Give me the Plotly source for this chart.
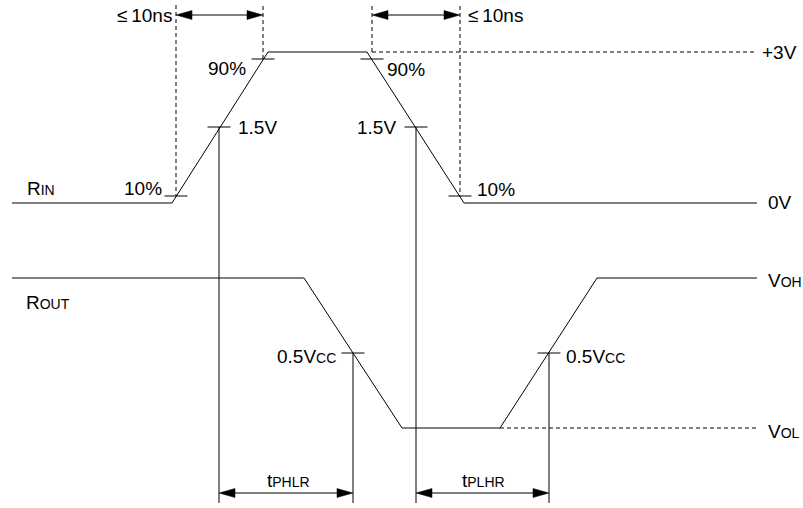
import plotly.graph_objects as go

# Canvas coordinates (x to the right, y downward), one unit per pixel
W, H = 803, 508

# Waveforms: input R_IN and output R_OUT
rin_x = [12, 172, 268, 367, 464, 757]
rin_y = [203, 203, 52, 52, 203, 203]
rout_x = [12, 304, 402, 500, 597, 757]
rout_y = [278, 278, 428, 428, 278, 278]

# Threshold crossing marks: (x, y)
rin_marks = [(176, 196), (263, 59), (219, 127), (416, 127), (372, 59), (460, 196)]
rout_marks = [(353, 353), (549, 353)]

FONT = "Liberation Sans, Arial, Helvetica, sans-serif"
INK = "#000000"
SIZE = 19
SUB = 14

fig = go.Figure()

fig.add_trace(go.Scatter(x=rin_x, y=rin_y, mode="lines",
                         line=dict(color=INK, width=1), hoverinfo="skip"))
fig.add_trace(go.Scatter(x=rout_x, y=rout_y, mode="lines",
                         line=dict(color=INK, width=1), hoverinfo="skip"))

shapes = []


def line(x0, y0, x1, y1, dash=None, width=1):
    shapes.append(dict(type="line", x0=x0, y0=y0, x1=x1, y1=y1, xref="x", yref="y",
                       line=dict(color=INK, width=width, dash=dash or "solid")))


def head(xt, y, direction, length=16, half=4.5):
    # filled triangular arrowhead with its tip at (xt, y)
    xb = xt - direction * length
    shapes.append(dict(type="path", xref="x", yref="y",
                       path=f"M {xt} {y} L {xb} {y - half} L {xb} {y + half} Z",
                       fillcolor=INK, line=dict(color=INK, width=0.5)))


def span_arrow(xa, xb, y):
    line(xa + 4, y, xb - 4, y)
    head(xa, y, -1)
    head(xb, y, 1)


def small(s):
    return f"<span style='font-size:{SUB}px'>{s}</span>"


DASH = "4px,3px"

# Crossing ticks
for (mx, my) in rin_marks + rout_marks:
    line(mx - 11.5, my, mx + 11.5, my)

# Rise / fall time guides (dashed)
line(176, 5, 176, 196, DASH)
line(263, 6, 263, 59, DASH)
line(372, 6, 372, 52, DASH)
line(460, 6, 460, 196, DASH)
line(372, 52, 757, 52, DASH)
line(500, 428, 757, 428, DASH)

# Propagation delay guides (solid)
line(219, 127, 219, 503)
line(416, 127, 416, 503)
line(353, 353, 353, 503)
line(549, 353, 549, 503)

# Dimension arrows
span_arrow(176, 263, 15)
span_arrow(372, 460, 15)
span_arrow(219, 353, 493)
span_arrow(416, 549, 493)

fig.update_layout(shapes=shapes)

LE = "\u2264\u2009"  # less-or-equal sign followed by a thin space

texts = [
    (LE + "10ns", 174, 15, "right"),
    (LE + "10ns", 466, 15, "left"),
    ("90%", 248, 68, "right"),
    ("90%", 385, 69, "left"),
    ("+3V", 760, 52, "left"),
    ("1.5V", 236, 127, "left"),
    ("1.5V", 398, 127, "right"),
    ("10%", 164, 188, "right"),
    ("10%", 475, 189, "left"),
    ("R" + small("IN"), 25, 188, "left"),
    ("0V", 766, 202, "left"),
    ("R" + small("OUT"), 24, 302, "left"),
    ("V" + small("OH"), 766, 280, "left"),
    ("0.5V" + small("CC"), 338, 356, "right"),
    ("0.5V" + small("CC"), 564, 356, "left"),
    ("V" + small("OL"), 766, 431, "left"),
    ("t" + small("PHLR"), 288, 480, "center"),
    ("t" + small("PLHR"), 483, 480, "center"),
]
for (t, x, y, anchor) in texts:
    fig.add_annotation(text=t, x=x, y=y, xref="x", yref="y", showarrow=False,
                       xanchor=anchor, yanchor="middle",
                       font=dict(family=FONT, size=SIZE, color=INK))

fig.update_xaxes(range=[0, W], visible=False, fixedrange=True)
fig.update_yaxes(range=[H, 0], visible=False, fixedrange=True)
fig.update_layout(width=W, height=H, margin=dict(l=0, r=0, t=0, b=0),
                  paper_bgcolor="white", plot_bgcolor="white", showlegend=False)

fig.write_html("out.html")
